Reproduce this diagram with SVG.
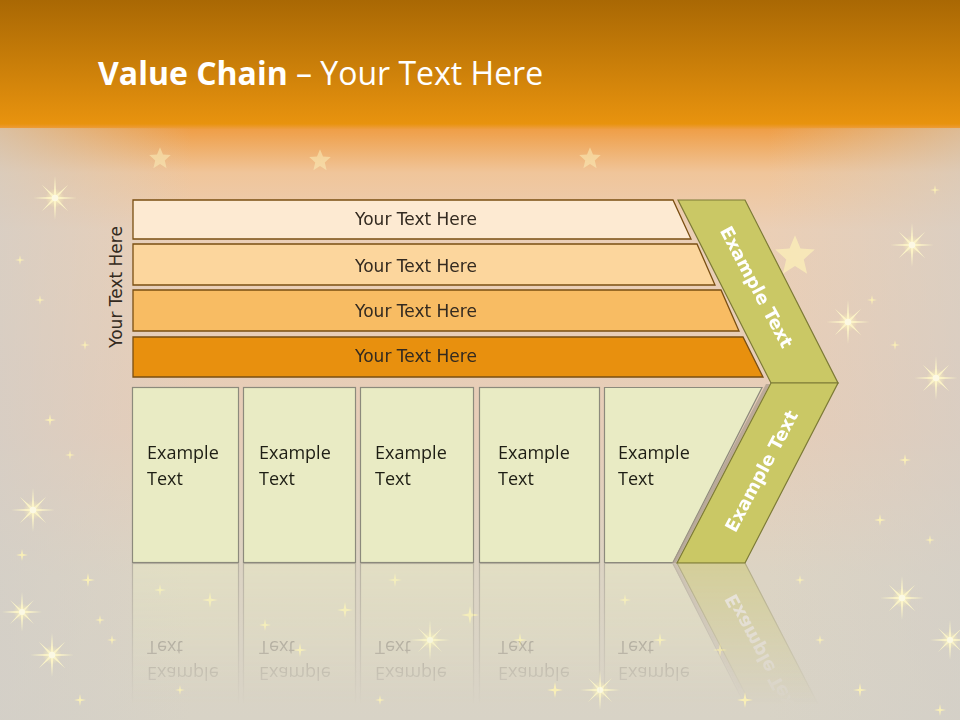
<svg xmlns="http://www.w3.org/2000/svg" xmlns:xlink="http://www.w3.org/1999/xlink" width="960" height="720" viewBox="0 0 960 720">
<defs>
<linearGradient id="bg" x1="0" y1="0" x2="0" y2="720" gradientUnits="userSpaceOnUse">
<stop offset="0" stop-color="#a96804"/>
<stop offset="0.172" stop-color="#e8930e"/>
<stop offset="0.18" stop-color="#ef9f48"/>
<stop offset="0.24" stop-color="#f0c59a"/>
<stop offset="0.32" stop-color="#ebcfb6"/>
<stop offset="0.6" stop-color="#e6cdb8"/>
<stop offset="0.8" stop-color="#dcd4c4"/>
<stop offset="1" stop-color="#d8d3c6"/>
</linearGradient>
<linearGradient id="side" x1="0" y1="0" x2="960" y2="0" gradientUnits="userSpaceOnUse">
<stop offset="0" stop-color="#d2cec8" stop-opacity="0.7"/>
<stop offset="0.2" stop-color="#d2cec8" stop-opacity="0"/>
<stop offset="0.8" stop-color="#d2cec8" stop-opacity="0"/>
<stop offset="1" stop-color="#d2cec8" stop-opacity="0.6"/>
</linearGradient>
<radialGradient id="glow">
<stop offset="0" stop-color="#fffbd0" stop-opacity="0.9"/>
<stop offset="1" stop-color="#fff3b0" stop-opacity="0"/>
</radialGradient>
<linearGradient id="fadeGrad" x1="0" y1="563" x2="0" y2="705" gradientUnits="userSpaceOnUse">
<stop offset="0" stop-color="#fff" stop-opacity="0.45"/>
<stop offset="1" stop-color="#fff" stop-opacity="0"/>
</linearGradient>
<mask id="fade" maskUnits="userSpaceOnUse" x="0" y="560" width="960" height="160">
<rect x="0" y="560" width="960" height="160" fill="url(#fadeGrad)"/>
</mask>
<symbol id="sp" viewBox="-10 -10 20 20" overflow="visible">
<path d="M0,-10 L1.6,-1.6 L10,0 L1.6,1.6 L0,10 L-1.6,1.6 L-10,0 L-1.6,-1.6Z" fill="#fff5b5"/>
</symbol>
<symbol id="burst" viewBox="-20 -20 40 40" overflow="visible">
<circle r="9" fill="url(#glow)"/>
<path d="M0,-20 L1.2,-1.2 L20,0 L1.2,1.2 L0,20 L-1.2,1.2 L-20,0 L-1.2,-1.2Z" fill="#fff8c8"/>
<path d="M-12,-12 L0.8,-0.8 L12,12 L-0.8,0.8Z M12,-12 L0.8,0.8 L-12,12 L-0.8,-0.8Z" fill="#fff8c8"/>
<circle r="3" fill="#fffde8"/>
</symbol>
<symbol id="star" viewBox="-20 -20 40 40" overflow="visible">
<path d="M0,-18 L5,-6 L18,-5 L8,4 L11,17 L0,10 L-11,17 L-8,4 L-18,-5 L-5,-6Z" fill="#fbeeb8"/>
</symbol>
<style>
.bar{stroke:#7a4f12;stroke-width:1.3}
.bt{font-family:"DejaVu Sans",Verdana,sans-serif;font-size:17px;fill:#332a20;text-anchor:middle}
.box{fill:#e9ebc4;stroke:#8c8a7c;stroke-width:1.2}
.ex{font-family:"Open Sans","Liberation Sans",sans-serif;font-size:18px;fill:#1e1e14}
.chev{fill:#cac865;stroke:#7c7a36;stroke-width:1.2}
.ct{font-family:"DejaVu Sans",Verdana,sans-serif;font-weight:bold;font-size:18px;fill:#ffffff;text-anchor:middle}
</style>
</defs>

<g id="background">
<rect width="960" height="720" fill="url(#bg)"/>
<rect y="128" width="960" height="592" fill="url(#side)"/>
<g opacity="0.55">
<use href="#star" x="-12" y="-12" width="24" height="24" transform="translate(160,158)"/>
<use href="#star" x="-12" y="-12" width="24" height="24" transform="translate(590,158)"/>
<use href="#star" x="-12" y="-12" width="24" height="24" transform="translate(320,160)"/>
</g>
<use href="#star" x="-22" y="-22" width="44" height="44" opacity="0.8" transform="translate(795,255)"/>
<g opacity="0.9">
<use href="#burst" x="-22" y="-22" width="44" height="44" transform="translate(55,198)"/>
<use href="#burst" x="-22" y="-22" width="44" height="44" transform="translate(33,510)"/>
<use href="#burst" x="-22" y="-22" width="44" height="44" transform="translate(52,655)"/>
<use href="#burst" x="-22" y="-22" width="44" height="44" transform="translate(912,245)"/>
<use href="#burst" x="-22" y="-22" width="44" height="44" transform="translate(936,378)"/>
<use href="#burst" x="-22" y="-22" width="44" height="44" transform="translate(902,598)"/>
<use href="#burst" x="-22" y="-22" width="44" height="44" transform="translate(848,322)"/>
<use href="#burst" x="-20" y="-20" width="40" height="40" transform="translate(22,612)"/>
<use href="#burst" x="-20" y="-20" width="40" height="40" transform="translate(430,640)"/>
<use href="#burst" x="-20" y="-20" width="40" height="40" transform="translate(600,690)"/>
<use href="#burst" x="-20" y="-20" width="40" height="40" transform="translate(950,640)"/>
</g>
<g opacity="0.85">
<use href="#sp" x="-6" y="-6" width="12" height="12" transform="translate(50,420)"/>
<use href="#sp" x="-5" y="-5" width="10" height="10" transform="translate(70,455)"/>
<use href="#sp" x="-6" y="-6" width="12" height="12" transform="translate(22,555)"/>
<use href="#sp" x="-7" y="-7" width="14" height="14" transform="translate(88,580)"/>
<use href="#sp" x="-5" y="-5" width="10" height="10" transform="translate(100,620)"/>
<use href="#sp" x="-6" y="-6" width="12" height="12" transform="translate(80,700)"/>
<use href="#sp" x="-5" y="-5" width="10" height="10" transform="translate(112,640)"/>
<use href="#sp" x="-5" y="-5" width="10" height="10" transform="translate(20,260)"/>
<use href="#sp" x="-5" y="-5" width="10" height="10" transform="translate(40,300)"/>
<use href="#sp" x="-5" y="-5" width="10" height="10" transform="translate(85,345)"/>
<use href="#sp" x="-6" y="-6" width="12" height="12" transform="translate(160,590)"/>
<use href="#sp" x="-8" y="-8" width="16" height="16" transform="translate(210,600)"/>
<use href="#sp" x="-6" y="-6" width="12" height="12" transform="translate(265,625)"/>
<use href="#sp" x="-7" y="-7" width="14" height="14" transform="translate(300,650)"/>
<use href="#sp" x="-8" y="-8" width="16" height="16" transform="translate(345,610)"/>
<use href="#sp" x="-7" y="-7" width="14" height="14" transform="translate(395,580)"/>
<use href="#sp" x="-9" y="-9" width="18" height="18" transform="translate(470,615)"/>
<use href="#sp" x="-7" y="-7" width="14" height="14" transform="translate(520,640)"/>
<use href="#sp" x="-8" y="-8" width="16" height="16" transform="translate(555,690)"/>
<use href="#sp" x="-6" y="-6" width="12" height="12" transform="translate(625,600)"/>
<use href="#sp" x="-7" y="-7" width="14" height="14" transform="translate(660,640)"/>
<use href="#sp" x="-8" y="-8" width="16" height="16" transform="translate(745,700)"/>
<use href="#sp" x="-7" y="-7" width="14" height="14" transform="translate(720,650)"/>
<use href="#sp" x="-5" y="-5" width="10" height="10" transform="translate(820,640)"/>
<use href="#sp" x="-7" y="-7" width="14" height="14" transform="translate(860,690)"/>
<use href="#sp" x="-6" y="-6" width="12" height="12" transform="translate(880,520)"/>
<use href="#sp" x="-5" y="-5" width="10" height="10" transform="translate(930,540)"/>
<use href="#sp" x="-6" y="-6" width="12" height="12" transform="translate(905,460)"/>
<use href="#sp" x="-5" y="-5" width="10" height="10" transform="translate(935,190)"/>
<use href="#sp" x="-5" y="-5" width="10" height="10" transform="translate(872,300)"/>
<use href="#sp" x="-5" y="-5" width="10" height="10" transform="translate(895,345)"/>
<use href="#sp" x="-6" y="-6" width="12" height="12" transform="translate(940,710)"/>
<use href="#sp" x="-5" y="-5" width="10" height="10" transform="translate(180,690)"/>
<use href="#sp" x="-5" y="-5" width="10" height="10" transform="translate(380,700)"/>
<use href="#sp" x="-5" y="-5" width="10" height="10" transform="translate(800,580)"/>
</g>
</g>

<g id="title">
<text x="98" y="85" font-family="'Open Sans','Liberation Sans',sans-serif" font-size="32" fill="#ffffff"><tspan font-weight="bold">Value Chain</tspan> – Your Text Here</text>
</g>

<g id="side-label">
<text class="bt" transform="translate(122,287) rotate(-90)">Your Text Here</text>
</g>

<g id="bar-1">
<polygon class="bar" points="133,200 673,200 691,239 133,239" fill="#fdead2"/>
<text class="bt" x="416" y="225">Your Text Here</text>
</g>
<g id="bar-2">
<polygon class="bar" points="133,244 697,244 715,285 133,285" fill="#fcd69d"/>
<text class="bt" x="416" y="272">Your Text Here</text>
</g>
<g id="bar-3">
<polygon class="bar" points="133,290 721,290 739,331 133,331" fill="#f8bc63"/>
<text class="bt" x="416" y="317">Your Text Here</text>
</g>
<g id="bar-4">
<polygon class="bar" points="133,337 743,337 763,377 133,377" fill="#e8900e"/>
<text class="bt" x="416" y="362">Your Text Here</text>
</g>

<g id="box-1">
<rect class="box" x="132.5" y="387.5" width="106" height="175"/>
<text class="ex" x="147" y="459">Example</text>
<text class="ex" x="147" y="485">Text</text>
</g>
<g id="box-2">
<rect class="box" x="243.5" y="387.5" width="112" height="175"/>
<text class="ex" x="259" y="459">Example</text>
<text class="ex" x="259" y="485">Text</text>
</g>
<g id="box-3">
<rect class="box" x="360.5" y="387.5" width="113" height="175"/>
<text class="ex" x="375" y="459">Example</text>
<text class="ex" x="375" y="485">Text</text>
</g>
<g id="box-4">
<rect class="box" x="479.5" y="387.5" width="120" height="175"/>
<text class="ex" x="498" y="459">Example</text>
<text class="ex" x="498" y="485">Text</text>
</g>
<g id="box-5">
<polygon class="box" points="604.5,387.5 762,387.5 673,562.5 604.5,562.5"/>
<text class="ex" x="618" y="459">Example</text>
<text class="ex" x="618" y="485">Text</text>
</g>

<g id="chevron-upper">
<polygon class="chev" points="678,200 745,200 838,383 771,383"/>
<text class="ct" transform="translate(751,290) rotate(62)">Example Text</text>
</g>
<g id="chevron-lower">
<polygon points="766,384 770,384 676,563 672,563" fill="#a89a8c" opacity="0.7"/>
<polygon class="chev" points="771,383 838,383 745,563 677,563"/>
<text class="ct" transform="translate(767,474) rotate(-62)">Example Text</text>
</g>

<g id="connectors"/>

<g id="reflection" mask="url(#fade)">
<g transform="translate(0,1126) scale(1,-1)">
<rect class="box" x="132.5" y="387.5" width="106" height="175"/>
<text class="ex" x="147" y="459">Example</text>
<text class="ex" x="147" y="485">Text</text>
<rect class="box" x="243.5" y="387.5" width="112" height="175"/>
<text class="ex" x="259" y="459">Example</text>
<text class="ex" x="259" y="485">Text</text>
<rect class="box" x="360.5" y="387.5" width="113" height="175"/>
<text class="ex" x="375" y="459">Example</text>
<text class="ex" x="375" y="485">Text</text>
<rect class="box" x="479.5" y="387.5" width="120" height="175"/>
<text class="ex" x="498" y="459">Example</text>
<text class="ex" x="498" y="485">Text</text>
<polygon class="box" points="604.5,387.5 762,387.5 673,562.5 604.5,562.5"/>
<text class="ex" x="618" y="459">Example</text>
<text class="ex" x="618" y="485">Text</text>
<polygon points="766,384 770,384 676,563 672,563" fill="#a89a8c" opacity="0.7"/>
<polygon class="chev" points="771,383 838,383 745,563 677,563"/>
<text class="ct" transform="translate(767,474) rotate(-62)">Example Text</text>
</g>
</g>
</svg>
